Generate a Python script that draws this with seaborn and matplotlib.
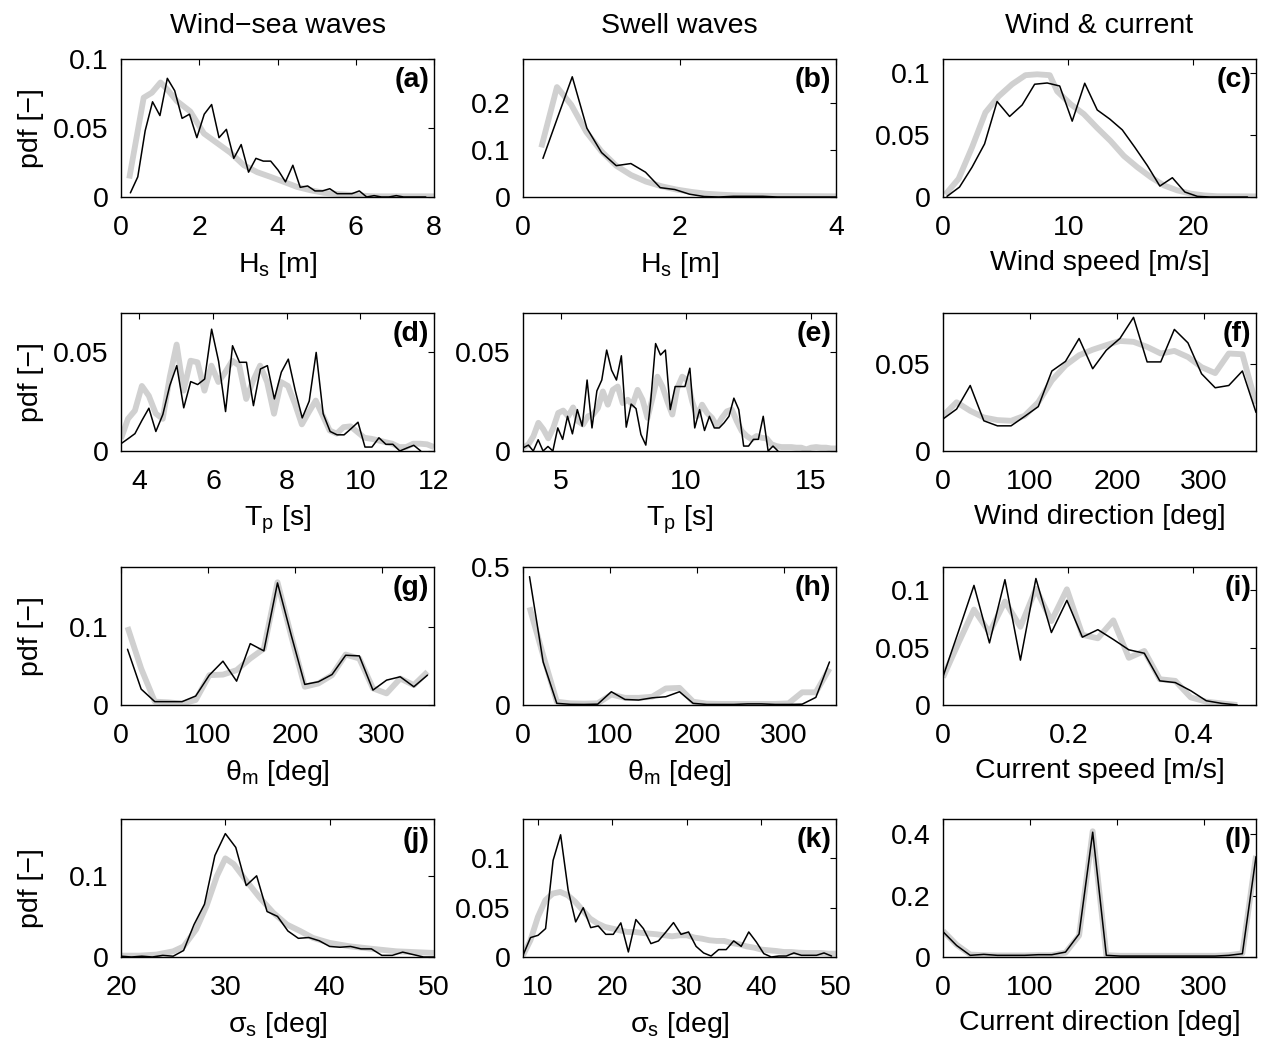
import numpy as np
import pandas as pd
import matplotlib
matplotlib.use("Agg")
import matplotlib.pyplot as plt
import seaborn as sns
from matplotlib.ticker import FuncFormatter

# ---------------------------------------------------------------- data
# Black = hindcast histogram pdf, grey = fitted / modelled pdf.

# (a) wind-sea significant wave height
hs_sea_obs_span = (0.24, 7.79)
hs_sea_obs = [0.003, 0.0146, 0.048, 0.069, 0.059, 0.086, 0.077, 0.057, 0.060, 0.043,
              0.060, 0.067, 0.043, 0.049, 0.028, 0.038, 0.018, 0.028, 0.026, 0.026,
              0.0195, 0.011, 0.023, 0.007, 0.008, 0.0044, 0.0044, 0.006, 0.0024, 0.0024,
              0.0024, 0.0044, 0.0, 0.001, 0.0, 0.0, 0.001, 0.0, 0.0, 0.0, 0.0]
hs_sea_mod_x = [0.21, 0.58, 0.79, 1.01, 1.18, 1.43, 1.77, 2.12, 2.46, 2.80, 3.14, 3.48,
                3.82, 4.16, 4.50, 4.84, 5.19, 5.61, 6.04, 6.46, 6.89, 8.0]
hs_sea_mod = [0.0134, 0.072, 0.0756, 0.083, 0.078, 0.0695, 0.062, 0.046, 0.039, 0.032,
              0.023, 0.018, 0.0146, 0.011, 0.0073, 0.0049, 0.003, 0.002, 0.0012, 0.0005,
              0.0005, 0.0005]

# (b) swell significant wave height
hs_sw_obs_span = (0.255, 4.0)
hs_sw_obs = [0.0825, 0.17, 0.257, 0.147, 0.095, 0.067, 0.0715, 0.053, 0.02, 0.016,
             0.006, 0.001, 0.0, 0.0015, 0.0015, 0.0015, 0.0, 0.0, 0.0, 0.0, 0.0]
hs_sw_mod_x = [0.234, 0.434, 0.617, 0.809, 1.0, 1.19, 1.38, 1.57, 1.77, 1.96, 2.15,
               2.34, 2.53, 2.72, 3.1, 4.0]
hs_sw_mod = [0.106, 0.235, 0.197, 0.139, 0.098, 0.067, 0.047, 0.033, 0.023, 0.016,
             0.011, 0.007, 0.005, 0.0035, 0.0025, 0.0015]

# (c) wind speed
ws_obs_span = (0.32, 24.32)
ws_obs = [0.0005, 0.008, 0.024, 0.0427, 0.0768, 0.0648, 0.074, 0.0907, 0.0917, 0.0893,
          0.061, 0.0915, 0.070, 0.0627, 0.054, 0.040, 0.0253, 0.0088, 0.0155, 0.004,
          0.0005, 0.0, 0.0, 0.0, 0.0]
ws_mod_x = [0.19, 1.25, 2.32, 3.39, 4.45, 5.52, 6.59, 7.52, 8.53, 9.12, 10.19, 11.25,
            12.32, 13.39, 14.45, 15.52, 16.59, 17.65, 18.72, 19.79, 20.85, 21.92, 25.0]
ws_mod = [0.002, 0.0147, 0.04, 0.068, 0.081, 0.0907, 0.098, 0.0987, 0.098, 0.085,
          0.0747, 0.0667, 0.0555, 0.045, 0.033, 0.024, 0.016, 0.0093, 0.0053, 0.0027,
          0.0013, 0.0006, 0.0005]

# (d) wind-sea peak period
tp_sea_obs_span = (3.5, 11.64)
tp_sea_obs = [0.0037, 0.0062, 0.0088, 0.0155, 0.0217, 0.0099, 0.0185, 0.0332, 0.0433, 0.0219,
              0.0352, 0.0337, 0.0365, 0.0618, 0.0455, 0.020, 0.0534, 0.045, 0.045, 0.023,
              0.0416, 0.0433, 0.0264, 0.040, 0.0466, 0.0306, 0.0168, 0.0253, 0.050, 0.0189,
              0.0099, 0.0082, 0.0082, 0.0113, 0.0146, 0.002, 0.002, 0.0067, 0.0034, 0.0034,
              0.0, 0.0015, 0.0029, 0.0]
tp_sea_mod_span = (3.5, 12.0)
tp_sea_mod = [0.0062, 0.0163, 0.0205, 0.033, 0.028, 0.019, 0.0163, 0.0374, 0.054, 0.0306,
              0.0458, 0.045, 0.0306, 0.0433, 0.035, 0.040, 0.0458, 0.0433, 0.0264, 0.0357,
              0.0433, 0.035, 0.0189, 0.035, 0.033, 0.024, 0.0135, 0.0197, 0.0256, 0.018,
              0.0104, 0.0088, 0.0121, 0.0125, 0.0096, 0.0067, 0.0062, 0.0054, 0.0045, 0.0037,
              0.002, 0.002, 0.0037, 0.0037, 0.0034, 0.002]

# (e) swell peak period
tp_sw_obs_span = (3.52, 13.68)
tp_sw_obs = [0.0017, 0.003, 0.0, 0.0057, 0.0, 0.0023, 0.0, 0.0117, 0.0059, 0.0176,
             0.0087, 0.021, 0.0126, 0.036, 0.0117, 0.0305, 0.036, 0.0512, 0.041, 0.036,
             0.0483, 0.0121, 0.0238, 0.0215, 0.0084, 0.003, 0.0252, 0.0545, 0.0487, 0.0512,
             0.021, 0.0327, 0.0327, 0.0327, 0.042, 0.0117, 0.021, 0.0104, 0.0176, 0.0117,
             0.0117, 0.0143, 0.0176, 0.0268, 0.021, 0.0025, 0.0025, 0.0059, 0.0059, 0.0176,
             0.0, 0.0025, 0.0]
tp_sw_mod_span = (3.52, 16.0)
tp_sw_mod = [0.0017, 0.0034, 0.0075, 0.0143, 0.011, 0.0064, 0.0117, 0.0193, 0.0205, 0.0176,
             0.0221, 0.0151, 0.0134, 0.0176, 0.0185, 0.0218, 0.0302, 0.0235, 0.031, 0.0327,
             0.0243, 0.026, 0.0235, 0.031, 0.026, 0.0168, 0.0268, 0.0377, 0.0327, 0.0252,
             0.0185, 0.0319, 0.0377, 0.036, 0.0252, 0.0176, 0.0235, 0.0193, 0.0168, 0.0126,
             0.0168, 0.0201, 0.021, 0.0151, 0.0101, 0.0076, 0.0059, 0.0076, 0.0067, 0.0064,
             0.0034, 0.0025, 0.002, 0.002, 0.002, 0.0017, 0.0017, 0.0008, 0.0017, 0.002,
             0.0017, 0.0017, 0.0013, 0.0013]

# (f) wind direction
wd_span = (0.0, 360.0)
wd_obs = [0.0183, 0.024, 0.0375, 0.0173, 0.0144, 0.0144, 0.0198, 0.0254, 0.0458, 0.0513,
          0.0644, 0.0471, 0.0577, 0.0644, 0.0765, 0.051, 0.051, 0.0696, 0.0619, 0.0442,
          0.0362, 0.0375, 0.0458, 0.0221]
wd_mod = [0.0202, 0.0279, 0.023, 0.0192, 0.0177, 0.0173, 0.0202, 0.0279, 0.0404, 0.049,
          0.0548, 0.058, 0.0606, 0.063, 0.0625, 0.0596, 0.0558, 0.0573, 0.0538, 0.048,
          0.0446, 0.0558, 0.0554, 0.027]

# (g) wind-sea mean direction
th_span = (7.5, 352.5)
th_sea_obs = [0.0715, 0.0204, 0.0043, 0.0043, 0.0043, 0.0115, 0.0383, 0.0562, 0.0306, 0.0787,
              0.0694, 0.1566, 0.09, 0.0264, 0.0298, 0.0391, 0.0638, 0.063, 0.0191, 0.0319,
              0.0362, 0.0234, 0.0383]
th_sea_mod = [0.100, 0.0468, 0.0043, 0.0034, 0.0017, 0.0064, 0.0383, 0.039, 0.0447, 0.0596,
              0.0723, 0.1574, 0.089, 0.0234, 0.0277, 0.0383, 0.0647, 0.0596, 0.0213, 0.0149,
              0.034, 0.0255, 0.0426]

# (h) swell mean direction
th_sw_obs = [0.465, 0.156, 0.006, 0.0024, 0.002, 0.003, 0.048, 0.020, 0.018, 0.026,
             0.030, 0.048, 0.006, 0.002, 0.002, 0.002, 0.004, 0.004, 0.002, 0.002,
             0.003, 0.0276, 0.156]
th_sw_mod = [0.354, 0.18, 0.012, 0.006, 0.005, 0.006, 0.038, 0.026, 0.026, 0.030,
             0.060, 0.062, 0.012, 0.005, 0.004, 0.004, 0.004, 0.004, 0.004, 0.006,
             0.046, 0.046, 0.132]

# (i) current speed
cs_span = (0.0, 0.47)
cs_obs = [0.0247, 0.064, 0.104, 0.054, 0.109, 0.039, 0.110, 0.063, 0.091, 0.059,
          0.0655, 0.057, 0.048, 0.045, 0.021, 0.0195, 0.0124, 0.0037, 0.0014, 0.0]
cs_mod = [0.024, 0.054, 0.083, 0.063, 0.090, 0.068, 0.101, 0.073, 0.1006, 0.061,
          0.058, 0.0736, 0.041, 0.047, 0.0224, 0.021, 0.0066, 0.0029, 0.0014, 0.0]

# (j) wind-sea directional spreading
ss_sea_obs_span = (20.0, 50.0)
ss_sea_obs = [0.001, 0.0, 0.001, 0.0, 0.002, 0.001, 0.008, 0.040, 0.065, 0.125,
              0.152, 0.135, 0.088, 0.100, 0.056, 0.050, 0.032, 0.023, 0.024, 0.020,
              0.013, 0.012, 0.013, 0.010, 0.010, 0.002, 0.002, 0.006, 0.003, 0.0, 0.0]
ss_sea_mod_x = [20.0, 21.8, 23.4, 25.0, 26.0, 27.2, 28.2, 29.2, 30.0, 30.8, 32.0, 33.3,
                34.6, 35.9, 37.2, 38.4, 40.0, 41.9, 44.2, 46.4, 50.0]
ss_sea_mod = [0.0017, 0.0017, 0.003, 0.007, 0.013, 0.034, 0.063, 0.100, 0.1215, 0.1145,
              0.094, 0.073, 0.0545, 0.040, 0.0318, 0.0235, 0.0174, 0.0132, 0.0099, 0.007,
              0.005]

# (k) swell directional spreading
ss_sw_obs_span = (8.0, 49.4)
ss_sw_obs = [0.0017, 0.0197, 0.022, 0.0288, 0.098, 0.124, 0.0678, 0.0356, 0.050, 0.0298,
             0.0315, 0.023, 0.023, 0.0346, 0.0051, 0.038, 0.0288, 0.0136, 0.0163, 0.0254,
             0.0349, 0.023, 0.0254, 0.0108, 0.0041, 0.001, 0.0075, 0.0075, 0.0163, 0.0108,
             0.0254, 0.0153, 0.0034, 0.0, 0.001, 0.001, 0.0041, 0.0017, 0.0017, 0.0017,
             0.0041, 0.001]
ss_sw_mod_span = (8.0, 50.0)
ss_sw_mod = [0.0017, 0.017, 0.0407, 0.0576, 0.0644, 0.066, 0.0627, 0.056, 0.0475, 0.039,
             0.034, 0.0305, 0.0288, 0.027, 0.0254, 0.0254, 0.0244, 0.0237, 0.023, 0.022,
             0.021, 0.022, 0.022, 0.0197, 0.0186, 0.017, 0.0163, 0.0163, 0.0142, 0.0129,
             0.0108, 0.0095, 0.0075, 0.0068, 0.0061, 0.0051, 0.0051, 0.0044, 0.0041, 0.0041,
             0.0041, 0.0034, 0.0034]

# (l) current direction
cd_obs = [0.0825, 0.0375, 0.0054, 0.0086, 0.0054, 0.0054, 0.0054, 0.0075, 0.0075, 0.016,
          0.075, 0.407, 0.0054, 0.003, 0.003, 0.003, 0.003, 0.003, 0.003, 0.003,
          0.003, 0.0054, 0.0107, 0.327]
cd_mod = [0.085, 0.040, 0.008, 0.006, 0.005, 0.005, 0.005, 0.006, 0.006, 0.014,
          0.070, 0.410, 0.006, 0.004, 0.004, 0.004, 0.004, 0.004, 0.004, 0.004,
          0.004, 0.006, 0.012, 0.330]

column_titles = ["Wind\u2212sea waves", "Swell waves", "Wind & current"]
panel_tags = ["(a)", "(b)", "(c)", "(d)", "(e)", "(f)",
              "(g)", "(h)", "(i)", "(j)", "(k)", "(l)"]
x_labels = [r"$\mathregular{H_s}$ [m]", r"$\mathregular{H_s}$ [m]", "Wind speed [m/s]",
            r"$\mathregular{T_p}$ [s]", r"$\mathregular{T_p}$ [s]", "Wind direction [deg]",
            r"$\mathregular{\theta_m}$ [deg]", r"$\mathregular{\theta_m}$ [deg]", "Current speed [m/s]",
            r"$\mathregular{\sigma_s}$ [deg]", r"$\mathregular{\sigma_s}$ [deg]", "Current direction [deg]"]


def grid(span, values):
    return np.linspace(span[0], span[1], len(values))


panels = [
    (grid(hs_sea_obs_span, hs_sea_obs), hs_sea_obs, hs_sea_mod_x, hs_sea_mod,
     (0, 8), [0, 2, 4, 6, 8], (0, 0.1), [0, 0.05, 0.1]),
    (grid(hs_sw_obs_span, hs_sw_obs), hs_sw_obs, hs_sw_mod_x, hs_sw_mod,
     (0, 4), [0, 2, 4], (0, 0.295), [0, 0.1, 0.2]),
    (grid(ws_obs_span, ws_obs), ws_obs, ws_mod_x, ws_mod,
     (0, 25), [0, 10, 20], (0, 0.111), [0, 0.05, 0.1]),
    (grid(tp_sea_obs_span, tp_sea_obs), tp_sea_obs, grid(tp_sea_mod_span, tp_sea_mod), tp_sea_mod,
     (3.5, 12), [4, 6, 8, 10, 12], (0, 0.07), [0, 0.05]),
    (grid(tp_sw_obs_span, tp_sw_obs), tp_sw_obs, grid(tp_sw_mod_span, tp_sw_mod), tp_sw_mod,
     (3.5, 16), [5, 10, 15], (0, 0.07), [0, 0.05]),
    (grid(wd_span, wd_obs), wd_obs, grid(wd_span, wd_mod), wd_mod,
     (0, 360), [0, 100, 200, 300], (0, 0.079), [0, 0.05]),
    (grid(th_span, th_sea_obs), th_sea_obs, grid(th_span, th_sea_mod), th_sea_mod,
     (0, 360), [0, 100, 200, 300], (0, 0.177), [0, 0.1]),
    (grid(th_span, th_sw_obs), th_sw_obs, grid(th_span, th_sw_mod), th_sw_mod,
     (0, 360), [0, 100, 200, 300], (0, 0.5), [0, 0.5]),
    (grid(cs_span, cs_obs), cs_obs, grid(cs_span, cs_mod), cs_mod,
     (0, 0.5), [0, 0.2, 0.4], (0, 0.12), [0, 0.05, 0.1]),
    (grid(ss_sea_obs_span, ss_sea_obs), ss_sea_obs, ss_sea_mod_x, ss_sea_mod,
     (20, 50), [20, 30, 40, 50], (0, 0.17), [0, 0.1]),
    (grid(ss_sw_obs_span, ss_sw_obs), ss_sw_obs, grid(ss_sw_mod_span, ss_sw_mod), ss_sw_mod,
     (8, 50), [10, 20, 30, 40, 50], (0, 0.14), [0, 0.05, 0.1]),
    (grid(wd_span, cd_obs), cd_obs, grid(wd_span, cd_mod), cd_mod,
     (0, 360), [0, 100, 200, 300], (0, 0.45), [0, 0.2, 0.4]),
]

# ---------------------------------------------------------------- style
sns.set_theme(style="white")
plt.rcParams.update({
    "font.family": ["Liberation Sans", "DejaVu Sans"],
    "mathtext.fontset": "custom",
    "mathtext.rm": "Liberation Sans",
    "mathtext.it": "Liberation Sans",
    "font.size": 20,
    "text.color": "black",
    "axes.labelcolor": "black",
    "axes.titlecolor": "black",
    "axes.edgecolor": "black",
    "axes.linewidth": 1.0,
    "xtick.direction": "in",
    "ytick.direction": "in",
    "xtick.top": True,
    "ytick.right": True,
    "xtick.major.size": 4,
    "ytick.major.size": 4,
    "xtick.major.width": 0.8,
    "ytick.major.width": 0.8,
    "xtick.labelsize": 20.5,
    "ytick.labelsize": 20.5,
    "xtick.color": "black",
    "ytick.color": "black",
    "xtick.labelcolor": "black",
    "ytick.labelcolor": "black",
    "xtick.major.pad": 13,
    "ytick.major.pad": 9,
})

W, H = 1262, 1038
fig = plt.figure(figsize=(W / 100, H / 100), dpi=100)

col_left = [121, 523, 943]
row_bottom = [197, 451, 705, 957]
ax_w, ax_h = 313, 138
fmt = FuncFormatter(lambda v, p: f"{v:g}")

for i, (xo, yo, xm, ym, xlim, xt, ylim, yt) in enumerate(panels):
    r, c = divmod(i, 3)
    ax = fig.add_axes([col_left[c] / W, 1 - row_bottom[r] / H, ax_w / W, ax_h / H])
    sns.lineplot(x=np.asarray(xm, float), y=np.asarray(ym, float), ax=ax, color="#d0d0d0",
                 linewidth=4.2, sort=False, estimator=None, solid_capstyle="butt")
    sns.lineplot(x=np.asarray(xo, float), y=np.asarray(yo, float), ax=ax, color="black",
                 linewidth=1.1, sort=False, estimator=None)
    ax.set_xlim(*xlim)
    ax.set_ylim(*ylim)
    ax.set_xticks(xt)
    ax.set_yticks(yt)
    ax.xaxis.set_major_formatter(fmt)
    ax.yaxis.set_major_formatter(fmt)
    for s in ax.spines.values():
        s.set_visible(True)
        s.set_color("black")
    ax.set_xlabel(x_labels[i], fontsize=20.5, color="black")
    ax.xaxis.set_label_coords(0.5, -0.385)
    if c == 0:
        ax.set_ylabel("pdf [\u2212]", fontsize=20.5, color="black")
        ax.yaxis.set_label_coords(-0.245, 0.5)
    else:
        ax.set_ylabel("")
    if r == 0:
        ax.set_title(column_titles[c], fontsize=20.5, pad=19, color="black")
    ax.text(0.985, 0.94, panel_tags[i], transform=ax.transAxes, ha="right", va="top",
            fontsize=20.5, fontweight="bold", color="black")

fig.savefig("out.png", dpi=100)
